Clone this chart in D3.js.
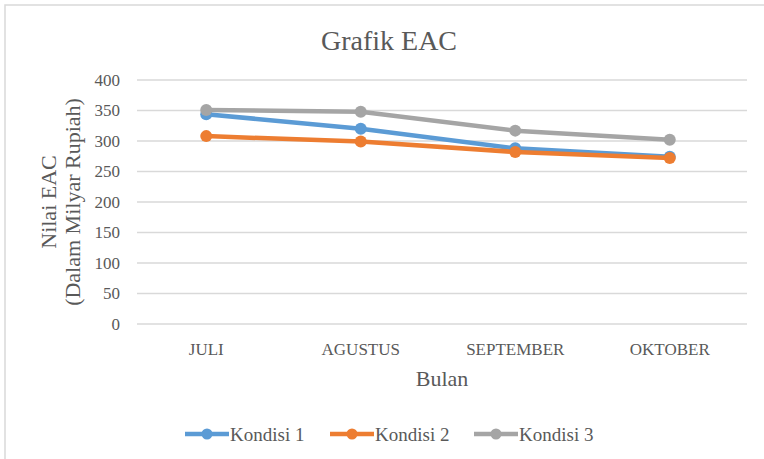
<!DOCTYPE html>
<html>
<head>
<meta charset="utf-8">
<title>Grafik EAC</title>
<script src="https://d3js.org/d3.v7.min.js"></script>
<style>
    body { margin: 0; background: #fff; }
    text { font-family: "Liberation Serif", "DejaVu Serif", serif; fill: #595959; }
    .grid line { stroke: #d9d9d9; stroke-width: 1.3; }
</style>
</head>
<body>
<svg width="764" height="459"></svg>
<script>
    // data
    var months = ["JULI", "AGUSTUS", "SEPTEMBER", "OKTOBER"];
    var seriesNames = ["Kondisi 1", "Kondisi 2", "Kondisi 3"];
    var kondisi1 = [344, 320, 288, 274];
    var kondisi2 = [308, 299, 282, 272];
    var kondisi3 = [351, 348, 317, 302];
    var yTicks = [0, 50, 100, 150, 200, 250, 300, 350, 400];
    var colors = ["#5b9bd5", "#ed7d31", "#a5a5a5"];

    var series = [kondisi1, kondisi2, kondisi3].map(function (v, i) {
        return { name: seriesNames[i], color: colors[i], values: v };
    });

    var svg = d3.select("svg"),
        plotLeft = 129, plotRight = 747, plotTop = 80, plotBottom = 324,
        gridLeft = 137;

    // outer frame like the excel chart area
    svg.append("path")
        .attr("d", "M5,470 L5,5 L770,5")
        .attr("fill", "none")
        .attr("stroke", "#d9d9d9")
        .attr("stroke-width", 1.5);

    var x = d3.scalePoint().domain(months).range([plotLeft, plotRight]).padding(0.5);
    var y = d3.scaleLinear().domain([0, 400]).range([plotBottom, plotTop]);

    // gridlines
    svg.append("g").attr("class", "grid")
        .selectAll("line")
        .data(yTicks)
        .enter().append("line")
        .attr("x1", gridLeft).attr("x2", plotRight)
        .attr("y1", function (d) { return y(d); })
        .attr("y2", function (d) { return y(d); });

    // y tick labels
    svg.append("g")
        .selectAll("text")
        .data(yTicks)
        .enter().append("text")
        .attr("x", 120)
        .attr("y", function (d) { return y(d); })
        .attr("dy", "0.35em")
        .attr("text-anchor", "end")
        .style("font-size", "17px")
        .text(function (d) { return d; });

    // x tick labels
    svg.append("g")
        .selectAll("text")
        .data(months)
        .enter().append("text")
        .attr("x", function (d) { return x(d); })
        .attr("y", 355)
        .attr("text-anchor", "middle")
        .style("font-size", "17px")
        .text(function (d) { return d; });

    // titles
    svg.append("text")
        .attr("x", 389).attr("y", 50)
        .attr("text-anchor", "middle")
        .style("font-size", "28px")
        .text("Grafik  EAC");

    svg.append("text")
        .attr("x", 442).attr("y", 386)
        .attr("text-anchor", "middle")
        .style("font-size", "22px")
        .text("Bulan");

    var yTitle = svg.append("text")
        .attr("transform", "translate(56,202) rotate(-90)")
        .attr("text-anchor", "middle")
        .style("font-size", "22px");
    yTitle.append("tspan").attr("x", 0).attr("dy", 0).text("Nilai EAC");
    yTitle.append("tspan").attr("x", 0).attr("dy", "1.08em").text("(Dalam Milyar  Rupiah)");

    // lines
    var line = d3.line()
        .x(function (d, i) { return x(months[i]); })
        .y(function (d) { return y(d); });

    var sg = svg.append("g")
        .selectAll("g")
        .data(series)
        .enter().append("g");

    sg.append("path")
        .attr("d", function (d) { return line(d.values); })
        .attr("fill", "none")
        .attr("stroke", function (d) { return d.color; })
        .attr("stroke-width", 4.5)
        .attr("stroke-linejoin", "round");

    sg.selectAll("circle")
        .data(function (d) { return d.values.map(function (v) { return { v: v, c: d.color }; }); })
        .enter().append("circle")
        .attr("cx", function (d, i) { return x(months[i]); })
        .attr("cy", function (d) { return y(d.v); })
        .attr("r", 6)
        .attr("fill", function (d) { return d.c; });

    // legend
    var legX = [185, 330, 474];
    var lg = svg.append("g")
        .selectAll("g")
        .data(series)
        .enter().append("g")
        .attr("transform", function (d, i) { return "translate(" + legX[i] + ",434)"; });

    lg.append("line")
        .attr("x1", 0).attr("x2", 44)
        .attr("stroke", function (d) { return d.color; })
        .attr("stroke-width", 4.5);
    lg.append("circle")
        .attr("cx", 22).attr("r", 5.5)
        .attr("fill", function (d) { return d.color; });
    lg.append("text")
        .attr("x", 45).attr("dy", "0.35em")
        .style("font-size", "19px")
        .text(function (d) { return d.name; });
</script>
</body>
</html>
